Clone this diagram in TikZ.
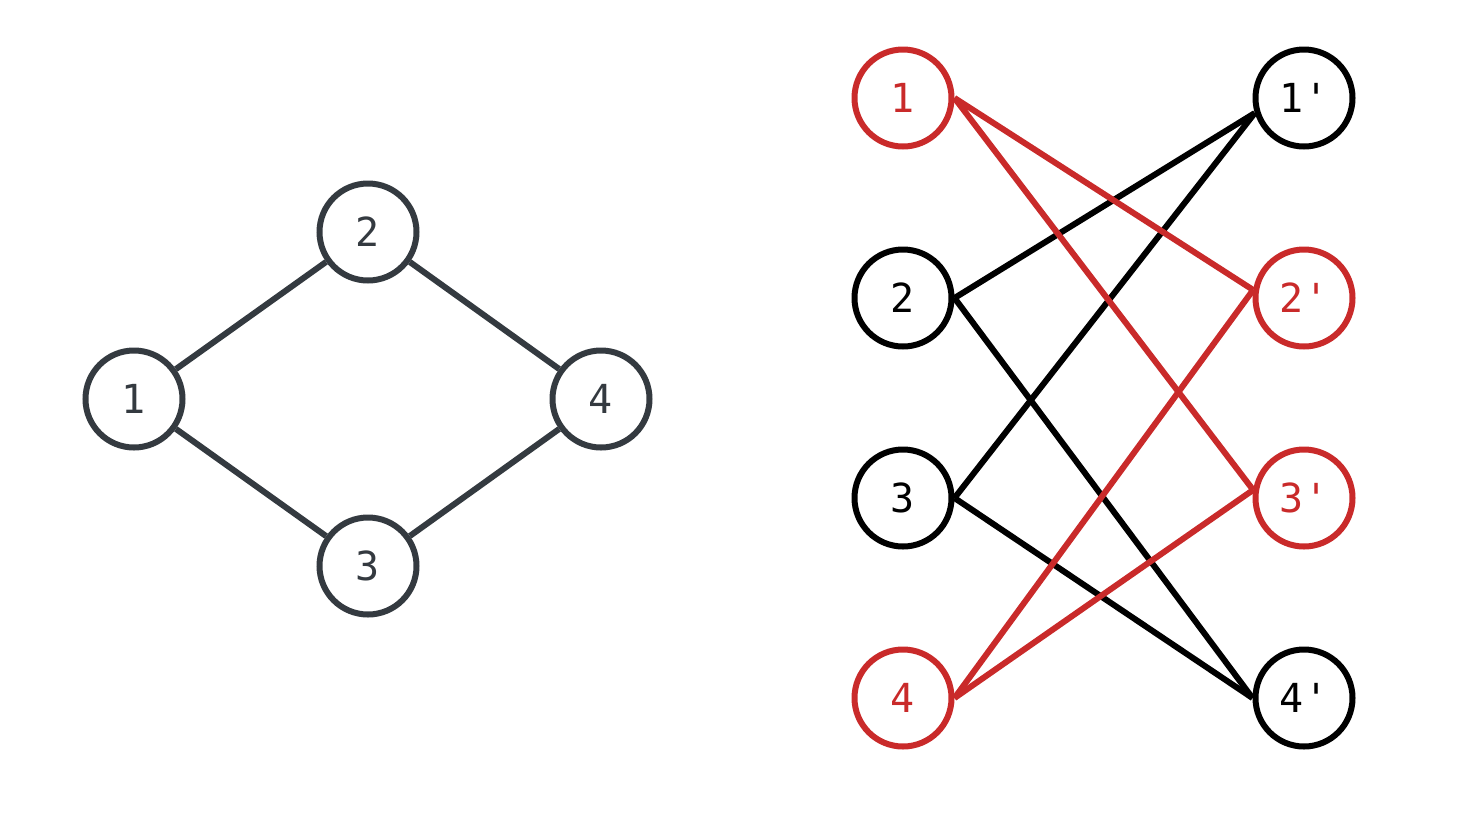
\documentclass[tikz,border=0pt]{standalone}
\usepackage{fontspec}
\setmonofont{DejaVu Sans Mono}
\definecolor{dgray}{HTML}{343A40}
\definecolor{exred}{HTML}{C92A2A}
\tikzset{
  vert/.style={circle, draw, line width=6pt, minimum size=97pt, inner sep=0pt, font=\ttfamily\fontsize{40}{42}\selectfont},
  gv/.style={vert, draw=dgray, text=dgray},
  rv/.style={vert, draw=exred, text=exred},
  bv/.style={vert, draw=black, text=black},
  gedge/.style={draw=dgray, line width=6pt},
  redge/.style={draw=exred, line width=6pt},
  bedge/.style={draw=black, line width=6pt}
}
\begin{document}
\begin{tikzpicture}[x=1pt,y=-1pt]
\useasboundingbox (0,0) rectangle (1462,820);
% left graph
\node[gv] (a1) at (134,399) {1};
\node[gv] (a2) at (368,232) {2};
\node[gv] (a3) at (368,566) {3};
\node[gv] (a4) at (601,399) {4};
\draw[gedge] (a1) -- (a2);
\draw[gedge] (a1) -- (a3);
\draw[gedge] (a2) -- (a4);
\draw[gedge] (a3) -- (a4);
% bipartite graph
\node[rv] (l1) at (903,98) {1};
\node[bv] (l2) at (903,298) {2};
\node[bv] (l3) at (903,498) {3};
\node[rv] (l4) at (903,698) {4};
\node[bv] (r1) at (1304,98) {1'};
\node[rv] (r2) at (1304,298) {2'};
\node[rv] (r3) at (1304,498) {3'};
\node[bv] (r4) at (1304,698) {4'};
\draw[bedge] (l2.east) -- (r1.197);
\draw[bedge] (l3.east) -- (r1.197);
\draw[bedge] (l2.east) -- (r4.west);
\draw[bedge] (l3.east) -- (r4.west);
\draw[redge] (l1.east) -- (r2.171);
\draw[redge] (l1.east) -- (r3.171);
\draw[redge] (l4.east) -- (r2.171);
\draw[redge] (l4.east) -- (r3.171);
\end{tikzpicture}
\end{document}
